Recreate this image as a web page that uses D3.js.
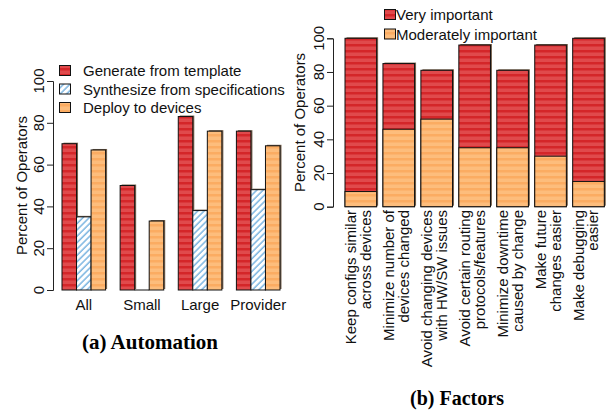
<!DOCTYPE html>
<html>
<head>
<meta charset="utf-8">
<script src="https://cdn.jsdelivr.net/npm/d3@7"></script>
<style>
  body { margin: 0; background: #fff; }
  svg { display: block; font-family: "Liberation Sans", Arial, sans-serif; }
  .cap { font-family: "Liberation Serif", "Times New Roman", serif; font-weight: bold; font-size: 20px; }
</style>
</head>
<body>
<svg id="chart" width="607" height="412"></svg>
<script>
// (a) Automation
var groups = ["All", "Small", "Large", "Provider"];
var autoSeries = ["Generate from template", "Synthesize from specifications", "Deploy to devices"];
var generate = [70, 50, 83, 76];
var synthesize = [35, 0, 38, 48];
var deploy = [67, 33, 76, 69];

// (b) Factors
var factors = [
    ["Keep configs similar", "across devices"],
    ["Minimize number of", "devices changed"],
    ["Avoid changing devices", "with HW/SW issues"],
    ["Avoid certain routing", "protocols/features"],
    ["Minimize downtime", "caused by change"],
    ["Make future", "changes easier"],
    ["Make debugging", "easier"]
];
var factorSeries = ["Very important", "Moderately important"];
var moderately = [9, 46, 52, 35, 35, 30, 15];
var very = [91, 39, 29, 61, 46, 66, 85];

var yTicks = [0, 20, 40, 60, 80, 100];

var svg = d3.select("#chart");
var defs = svg.append("defs");

// striped fills
function stripes(id, base, band) {
    var p = defs.append("pattern").attr("id", id)
        .attr("patternUnits", "userSpaceOnUse").attr("width", 10).attr("height", 6);
    p.append("rect").attr("width", 10).attr("height", 6).attr("fill", base);
    p.append("rect").attr("y", 2).attr("width", 10).attr("height", 2.5).attr("fill", band);
}
stripes("red", "#e04a4c", "#d42629");
stripes("orange", "#fdbd7c", "#fbac62");
var h = defs.append("pattern").attr("id", "hatch")
    .attr("patternUnits", "userSpaceOnUse").attr("width", 4.5).attr("height", 4.5)
    .attr("patternTransform", "rotate(45)");
h.append("rect").attr("width", 4.5).attr("height", 4.5).attr("fill", "#fff");
h.append("line").attr("x1", 1).attr("x2", 1).attr("y1", 0).attr("y2", 4.5)
    .attr("stroke", "#4a9ad6").attr("stroke-width", 1.1);

var fills = ["url(#red)", "url(#hatch)", "url(#orange)"];

function bar(g, x, y, w, hgt, fill) {
    if (hgt <= 0) {
        // zero bar: R still draws its outline as a flat line
        g.append("line").attr("x1", x).attr("x2", x + w).attr("y1", y).attr("y2", y)
            .attr("stroke", "#111").attr("stroke-width", 1);
        return;
    }
    g.append("rect").attr("x", x + 1.5).attr("y", y - 1).attr("width", w).attr("height", hgt)
        .attr("fill", "#7a6652");
    g.append("rect").attr("x", x).attr("y", y).attr("width", w).attr("height", hgt)
        .attr("fill", fill).attr("stroke", "#111").attr("stroke-width", 1);
}

function yAxis(y, axisX, tickLabelX, titleX) {
    var ax = svg.append("g").attr("transform", "translate(" + axisX + ",0)")
        .call(d3.axisLeft(y).tickValues(yTicks).tickSize(6).tickFormat(""));
    ax.select(".domain").attr("stroke", "#222");
    ax.selectAll(".tick line").attr("stroke", "#222");
    svg.selectAll(null).data(yTicks).enter().append("text")
        .attr("transform", function(d) { return "translate(" + tickLabelX + "," + y(d) + ") rotate(-90)"; })
        .attr("text-anchor", "middle").attr("font-size", 15).attr("fill", "#111")
        .text(function(d) { return d; });
    svg.append("text")
        .attr("transform", "translate(" + titleX + "," + (y(50)) + ") rotate(-90)")
        .attr("text-anchor", "middle").attr("font-size", 15).attr("fill", "#111")
        .text("Percent of Operators");
}

// ---- left chart ----
var yA = d3.scaleLinear().domain([0, 100]).range([290, 81]);
var xA = d3.scaleBand().domain(groups).range([62, 280]).paddingInner(0.25).paddingOuter(0);
var xS = d3.scaleBand().domain(autoSeries).range([0, xA.bandwidth()]);
var autoData = [generate, synthesize, deploy];

yAxis(yA, 53, 43.5, 27);

var gA = svg.append("g");
groups.forEach(function(grp, i) {
    autoSeries.forEach(function(s, j) {
        var v = autoData[j][i];
        bar(gA, xA(grp) + xS(s), yA(v), xS.bandwidth(), yA(0) - yA(v), fills[j]);
    });
});
svg.selectAll(null).data(groups).enter().append("text")
    .attr("x", function(d) { return xA(d) + xA.bandwidth() / 2; })
    .attr("y", 310).attr("text-anchor", "middle").attr("font-size", 15).attr("fill", "#111")
    .text(function(d) { return d; });

var legA = svg.append("g");
autoSeries.forEach(function(s, j) {
    var ly = 70.5 + j * 18.5;
    legA.append("rect").attr("x", 59.5).attr("y", ly - 5).attr("width", 11).attr("height", 10)
        .attr("fill", fills[j]).attr("stroke", "#111");
    legA.append("text").attr("x", 83).attr("y", ly + 5.5).attr("font-size", 15).attr("fill", "#111").text(s);
});

svg.append("text").attr("class", "cap").attr("x", 150).attr("y", 349)
    .attr("text-anchor", "middle").style("font-size", "21px").text("(a) Automation");

// ---- right chart ----
var yB = d3.scaleLinear().domain([0, 100]).range([206.7, 38.3]);
var xB = d3.scaleBand().domain(d3.range(factors.length)).range([345, 604.3]).paddingInner(0.2 / 1.2).paddingOuter(0);

yAxis(yB, 333, 323.5, 305);

var gB = svg.append("g");
factors.forEach(function(f, i) {
    var total = moderately[i] + very[i];
    bar(gB, xB(i), yB(total), xB.bandwidth(), yB(0) - yB(total), "url(#red)");
    gB.append("rect").attr("x", xB(i)).attr("y", yB(moderately[i])).attr("width", xB.bandwidth())
        .attr("height", yB(0) - yB(moderately[i])).attr("fill", "url(#orange)")
        .attr("stroke", "#111").attr("stroke-width", 1);
    var cx = xB(i) + xB.bandwidth() / 2;
    f.forEach(function(line, k) {
        svg.append("text")
            .attr("transform", "translate(" + (cx - 4.5 + k * 14.5) + ",210) rotate(-90)")
            .attr("text-anchor", "end").attr("font-size", 15).attr("fill", "#111").text(line);
    });
});

var legB = svg.append("g");
var legFills = ["url(#red)", "url(#orange)"];
factorSeries.forEach(function(s, j) {
    var ly = 14.5 + j * 19.5;
    legB.append("rect").attr("x", 384.5).attr("y", ly - 5).attr("width", 11).attr("height", 10)
        .attr("fill", legFills[j]).attr("stroke", "#111");
    legB.append("text").attr("x", 396).attr("y", ly + 5.5).attr("font-size", 15).attr("fill", "#111").text(s);
});

svg.append("text").attr("class", "cap").attr("x", 457).attr("y", 405)
    .attr("text-anchor", "middle").text("(b) Factors");
</script>
</body>
</html>
